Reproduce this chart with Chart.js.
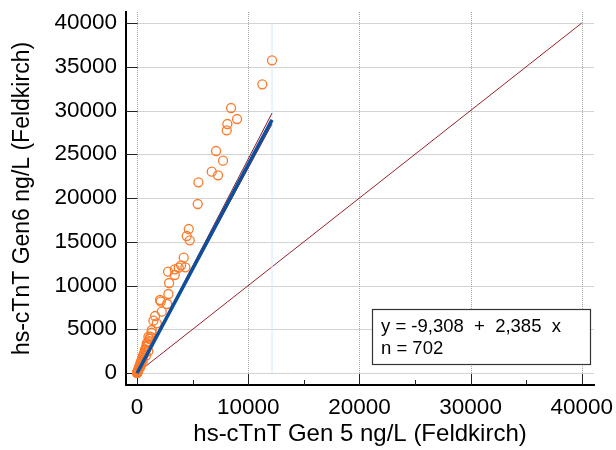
<!DOCTYPE html>
<html><head><meta charset="utf-8">
<script src="https://cdn.jsdelivr.net/npm/chart.js@4.4.1/dist/chart.umd.min.js"></script>
<style>html,body{margin:0;padding:0;background:#fff;}#wrap{width:616px;height:450px;position:relative;}</style>
</head><body><div id="wrap"><canvas id="c" width="616" height="450"></canvas></div>
<script>
// hs-cTnT Gen 5 (x) vs Gen 6 (y), ng/L, Feldkirch
const gen5 = [3,5,8,10,15,20,25,40,60,80,100,120,150,180,200,230,260,300,330,360,400,440,480,520,560,600,650,700,760,820,880,950,1020,1100,1200,1300,
  300,500,800,1000,719,869,1018,1318,1768,1468,1618,2217,2697,2127,2067,2816,2876,3386,2786,3386,3745,4344,3955,4194,4734,4464,4644,5453,5513,7281,6712,7730,7101,8063,8117,8989,8449,11263,12135];
const gen6 = [8,15,20,30,45,60,90,150,180,300,320,420,480,650,700,800,980,1050,1200,1250,1450,1500,1700,1900,2000,2150,2300,2600,2700,3000,3100,3400,3600,3900,4150,4600,
  700,1200,2000,2500,2629,3390,4152,4914,5676,5980,6514,7010,7886,8152,8343,9029,10286,11200,11577,11846,12034,12080,12309,13177,15166,15657,16457,19314,21794,22594,23006,24263,25371,27737,28457,29029,30286,32994,35737];
const xTicks = [0,10000,20000,30000,40000];
const xMinorTicks = [5000,15000,25000,35000];
const yTicks = [0,5000,10000,15000,20000,25000,30000,35000,40000];
const fitX = [0,12135];
const fitY = [-9.308,28932];
const ciUpperY = [-9.308,29700];
const ciLowerY = [-9.308,28450];
const identityX = [0,40000];
const identityY = [0,40000];
const maxMarkX = [12135,12135];
const maxMarkY = [0,40000];
const eqLines = ['y = -9,308  +  2,385  x','n = 702'];
const xTitle = 'hs-cTnT Gen 5 ng/L (Feldkirch)';
const yTitle = 'hs-cTnT Gen6 ng/L (Feldkirch)';

const pts = (xs,ys)=>xs.map((v,i)=>({x:v,y:ys[i]}));
const FONT = "'Liberation Sans', Arial, sans-serif";

const guides = {
  id:'guides',
  beforeDatasetsDraw(chart){
    const {ctx, chartArea:a, scales:{x,y}} = chart;
    const line=(x1,y1,x2,y2)=>{ctx.beginPath();ctx.moveTo(x1,y1);ctx.lineTo(x2,y2);ctx.stroke();};
    const x0 = Math.round(x.getPixelForValue(0))+0.5, y0 = Math.round(y.getPixelForValue(0))+0.5;
    ctx.save();
    ctx.lineWidth=1; ctx.strokeStyle='#a6a6a6'; ctx.setLineDash([1,1]);
    yTicks.forEach(v=>{const p=Math.round(y.getPixelForValue(v))+0.5; line(x0,p,a.right,p);});
    xTicks.forEach(v=>{const p=Math.round(x.getPixelForValue(v))+0.5; line(p,a.top,p,y0);});
    ctx.setLineDash([]);
    ctx.strokeStyle='#222';
    yTicks.forEach(v=>{const p=Math.round(y.getPixelForValue(v))+0.5; line(a.left,p,x0,p);});
    xTicks.forEach(v=>{const p=Math.round(x.getPixelForValue(v))+0.5; line(p,a.bottom,p,a.bottom-11);});
    xMinorTicks.forEach(v=>{const p=Math.round(x.getPixelForValue(v))+0.5; line(p,a.bottom,p,a.bottom-5);});
    ctx.restore();
  },
  afterDraw(chart){
    const {ctx, chartArea:a} = chart;
    const bx = a.right-221.5, by = a.bottom-75.5, bw=218, bh=55;
    ctx.save();
    ctx.fillStyle='#fff'; ctx.fillRect(bx,by,bw,bh);
    ctx.strokeStyle='#333'; ctx.lineWidth=1.2; ctx.strokeRect(bx,by,bw,bh);
    ctx.fillStyle='#000'; ctx.font='18.5px '+FONT; ctx.textBaseline='alphabetic';
    ctx.fillText(eqLines[0], bx+8.5, by+22.5);
    ctx.fillText(eqLines[1], bx+8.5, by+44);
    ctx.restore();
  }
};

const zeroPad = s=>{s.paddingTop=0;s.paddingBottom=0;s.paddingLeft=0;s.paddingRight=0;};

new Chart(document.getElementById('c'), {
  type:'scatter',
  data:{datasets:[
    {type:'line',data:pts(fitX,fitY),borderColor:'#0d4f9e',borderWidth:3.5,pointRadius:0,fill:false},
    {type:'line',data:pts(fitX,ciUpperY),borderColor:'#8b1a1a',borderWidth:1,pointRadius:0,fill:false},
    {type:'line',data:pts(fitX,ciLowerY),borderColor:'#8b1a1a',borderWidth:1,pointRadius:0,fill:false},
    {data:pts(gen5,gen6),pointStyle:'circle',pointRadius:4.5,borderColor:'#fb7a2b',borderWidth:1.3,backgroundColor:'rgba(0,0,0,0)'},
    {type:'line',data:pts(maxMarkX,maxMarkY),borderColor:'#d3e8fb',borderWidth:1,pointRadius:0,fill:false},
    {type:'line',data:pts(identityX,identityY),borderColor:'#99202a',borderWidth:1,pointRadius:0,fill:false}
  ]},
  options:{
    responsive:false, devicePixelRatio:1, animation:false,
    layout:{padding:{top:12,right:22,left:0,bottom:0}},
    plugins:{legend:{display:false},tooltip:{enabled:false}},
    scales:{
      x:{type:'linear',min:-1000,max:41100,
        afterBuildTicks:s=>{s.ticks=xTicks.map(v=>({value:v}));},
        afterFit:s=>{s.height=65; zeroPad(s);},
        grid:{display:false,drawTicks:false},
        border:{display:true,color:'#000',width:2},
        ticks:{color:'#000',font:{family:FONT,size:22.5},padding:9,maxRotation:0,autoSkip:false,callback:v=>String(v)},
        title:{display:true,text:xTitle,color:'#000',font:{family:FONT,size:24},padding:{top:0,bottom:1}}
      },
      y:{type:'linear',min:-1370,max:41260,
        afterBuildTicks:s=>{s.ticks=yTicks.map(v=>({value:v}));},
        afterFit:s=>{s.width=126; zeroPad(s);},
        grid:{display:false,drawTicks:false},
        border:{display:true,color:'#000',width:2},
        ticks:{color:'#000',font:{family:FONT,size:22.5},padding:9,autoSkip:false,callback:v=>String(v)},
        title:{display:true,text:yTitle,color:'#000',font:{family:FONT,size:23},padding:{top:9,bottom:0}}
      }
    }
  },
  plugins:[guides]
});
</script></body></html>
